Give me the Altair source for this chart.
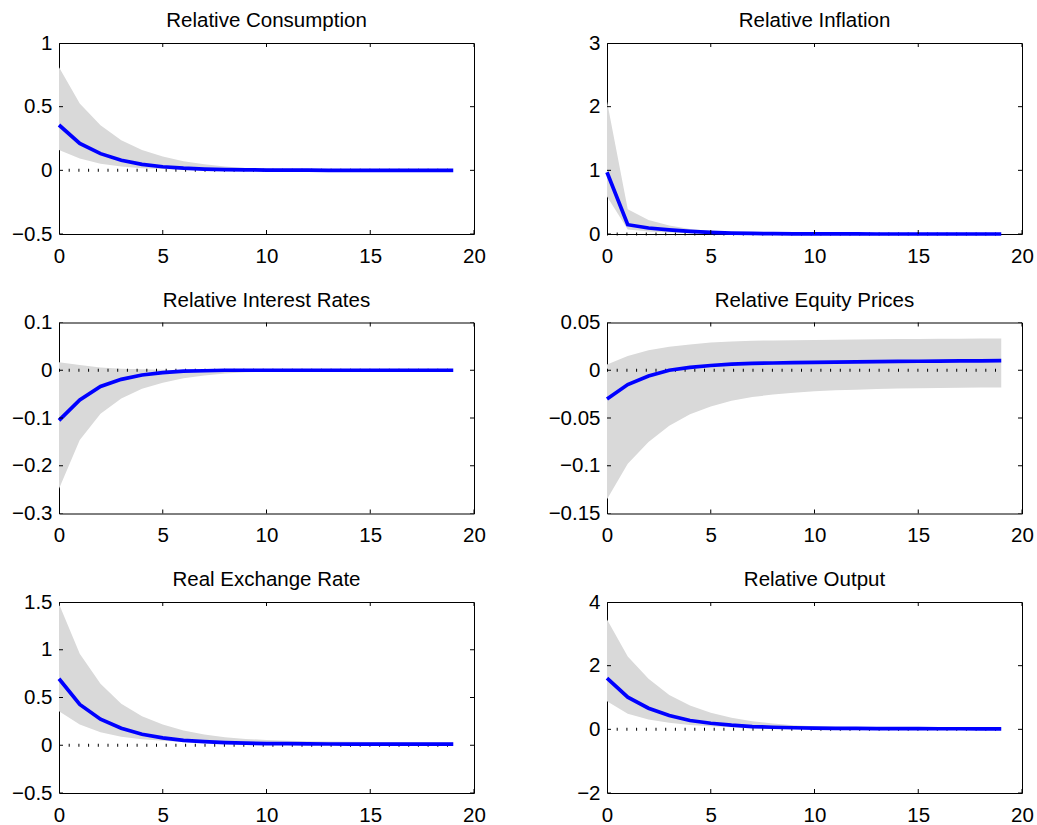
import altair as alt
import pandas as pd

horizon = list(range(20))
x_ticks = [0, 5, 10, 15, 20]

titles = ["Relative Consumption", "Relative Inflation", "Relative Interest Rates",
          "Relative Equity Prices", "Real Exchange Rate", "Relative Output"]

cons_mean = [0.356, 0.212, 0.131, 0.079, 0.047, 0.028, 0.017, 0.010, 0.006, 0.004,
             0.002, 0.001, 0.001, 0.0, 0.0, 0.0, 0.0, 0.0, 0.0, 0.0]
cons_hi = [0.81, 0.524, 0.354, 0.236, 0.160, 0.108, 0.072, 0.047, 0.030, 0.019,
           0.012, 0.008, 0.005, 0.003, 0.002, 0.001, 0.001, 0.001, 0.0, 0.0]
cons_lo = [0.16, 0.092, 0.052, 0.030, 0.017, 0.010, 0.005, 0.002, 0.001, 0.0,
           0.0, 0.0, 0.0, 0.0, 0.0, 0.0, 0.0, 0.0, 0.0, 0.0]

infl_mean = [0.97, 0.146, 0.094, 0.065, 0.042, 0.026, 0.015, 0.009, 0.005, 0.003,
             0.002, 0.001, 0.001, 0.0, 0.0, 0.0, 0.0, 0.0, 0.0, 0.0]
infl_hi = [2.08, 0.39, 0.22, 0.135, 0.078, 0.047, 0.028, 0.017, 0.010, 0.006,
           0.004, 0.002, 0.001, 0.001, 0.0, 0.0, 0.0, 0.0, 0.0, 0.0]
infl_lo = [0.59, 0.07, 0.04, 0.025, 0.013, 0.007, 0.004, 0.002, 0.001, 0.0,
           0.0, 0.0, 0.0, 0.0, 0.0, 0.0, 0.0, 0.0, 0.0, 0.0]

rate_mean = [-0.105, -0.062, -0.034, -0.019, -0.010, -0.005, -0.002, -0.001, 0.0, 0.0,
             0.0, 0.0, 0.0, 0.0, 0.0, 0.0, 0.0, 0.0, 0.0, 0.0]
rate_hi = [0.017, 0.011, 0.006, 0.003, 0.002, 0.001, 0.0, 0.0, 0.0, 0.0,
           0.0, 0.0, 0.0, 0.0, 0.0, 0.0, 0.0, 0.0, 0.0, 0.0]
rate_lo = [-0.248, -0.146, -0.091, -0.059, -0.039, -0.026, -0.017, -0.011, -0.007, -0.004,
           -0.003, -0.002, -0.001, -0.001, 0.0, 0.0, 0.0, 0.0, 0.0, 0.0]

eq_mean = [-0.030, -0.015, -0.006, 0.000, 0.003, 0.005, 0.0065, 0.0072, 0.0076, 0.0080,
           0.0083, 0.0086, 0.0088, 0.0090, 0.0092, 0.0094, 0.0096, 0.0098, 0.0099, 0.0100]
eq_hi = [0.006, 0.015, 0.021, 0.0246, 0.027, 0.029, 0.030, 0.031, 0.0312, 0.0315,
         0.0318, 0.032, 0.0322, 0.0324, 0.0326, 0.0328, 0.033, 0.033, 0.0332, 0.0333]
eq_lo = [-0.135, -0.098, -0.075, -0.058, -0.046, -0.038, -0.032, -0.028, -0.0255, -0.0235,
         -0.022, -0.021, -0.0203, -0.0197, -0.0192, -0.0188, -0.0185, -0.0183, -0.0181, -0.018]

rer_mean = [0.696, 0.427, 0.273, 0.178, 0.115, 0.077, 0.052, 0.038, 0.028, 0.022,
            0.018, 0.016, 0.014, 0.013, 0.012, 0.012, 0.011, 0.011, 0.011, 0.011]
rer_hi = [1.48, 0.958, 0.643, 0.434, 0.304, 0.217, 0.154, 0.112, 0.084, 0.066,
          0.055, 0.048, 0.043, 0.039, 0.036, 0.034, 0.033, 0.032, 0.031, 0.031]
rer_lo = [0.357, 0.217, 0.136, 0.090, 0.063, 0.046, 0.034, 0.026, 0.020, 0.015,
          0.012, 0.009, 0.007, 0.005, 0.004, 0.003, 0.002, 0.002, 0.001, 0.001]

out_mean = [1.61, 1.01, 0.664, 0.433, 0.276, 0.19, 0.13, 0.087, 0.066, 0.05,
            0.04, 0.033, 0.028, 0.025, 0.022, 0.02, 0.019, 0.018, 0.017, 0.016]
out_hi = [3.45, 2.29, 1.59, 1.08, 0.75, 0.52, 0.36, 0.255, 0.18, 0.13,
          0.10, 0.08, 0.065, 0.055, 0.048, 0.043, 0.04, 0.038, 0.036, 0.035]
out_lo = [0.885, 0.486, 0.31, 0.21, 0.14, 0.095, 0.065, 0.045, 0.03, 0.02,
          0.014, 0.01, 0.007, 0.005, 0.004, 0.003, 0.002, 0.002, 0.001, 0.001]

y_domains = [[-0.5, 1], [0, 3], [-0.3, 0.1], [-0.15, 0.05], [-0.5, 1.5], [-2, 4]]
y_ticks = [[-0.5, 0, 0.5, 1], [0, 1, 2, 3], [-0.3, -0.2, -0.1, 0, 0.1],
           [-0.15, -0.1, -0.05, 0, 0.05], [-0.5, 0, 0.5, 1, 1.5], [-2, 0, 2, 4]]

means = [cons_mean, infl_mean, rate_mean, eq_mean, rer_mean, out_mean]
his = [cons_hi, infl_hi, rate_hi, eq_hi, rer_hi, out_hi]
los = [cons_lo, infl_lo, rate_lo, eq_lo, rer_lo, out_lo]

FONT = "Liberation Sans"
FS = 20.5
W, H = 415, 191


def panel(i):
    df = pd.DataFrame({"h": horizon, "mean": means[i], "lo": los[i], "hi": his[i]})
    ydom = y_domains[i]
    xs = alt.Scale(domain=[0, 20], nice=False, zero=False)
    ys = alt.Scale(domain=ydom, nice=False, zero=False)
    xaxis = alt.Axis(values=x_ticks, grid=False, domain=False, ticks=False, tickSize=0,
                     labelPadding=12, title=None, labelExpr="format(datum.value, '~g')",
                     labelFontSize=FS, labelFont=FONT, labelColor="black", labelFlush=False)
    yaxis = alt.Axis(values=y_ticks[i], grid=False, domain=False, ticks=False, tickSize=0,
                     labelPadding=7, title=None, labelExpr="format(datum.value, '~g')",
                     labelFontSize=FS, labelFont=FONT, labelColor="black", labelFlush=False)

    base = alt.Chart(df)
    band = base.mark_area(color="#d9d9d9", opacity=1).encode(
        x=alt.X("h:Q", scale=xs, axis=xaxis),
        y=alt.Y("lo:Q", scale=ys, axis=yaxis),
        y2="hi:Q",
    )
    zero = base.mark_rule(color="black", strokeWidth=3, strokeDash=[1, 8.7]).encode(
        x=alt.X("min(h):Q", scale=xs, axis=xaxis),
        x2="max(h):Q",
        y=alt.YDatum(0, type="quantitative", scale=ys, axis=yaxis),
    )
    line = base.mark_line(color="#0000ff", strokeWidth=3.7).encode(
        x=alt.X("h:Q", scale=xs, axis=xaxis),
        y=alt.Y("mean:Q", scale=ys, axis=yaxis),
    )
    xt = alt.Chart(pd.DataFrame({"v": x_ticks}))
    yt = alt.Chart(pd.DataFrame({"v": y_ticks[i]}))
    tick_style = dict(color="black", thickness=1, size=8, clip=True, opacity=1)
    top_t = xt.mark_tick(orient="vertical", **tick_style).encode(
        x=alt.X("v:Q", scale=xs, axis=xaxis),
        y=alt.YDatum(ydom[1], type="quantitative", scale=ys, axis=yaxis),
    )
    bot_t = xt.mark_tick(orient="vertical", **tick_style).encode(
        x=alt.X("v:Q", scale=xs, axis=xaxis),
        y=alt.YDatum(ydom[0], type="quantitative", scale=ys, axis=yaxis),
    )
    left_t = yt.mark_tick(orient="horizontal", **tick_style).encode(
        y=alt.Y("v:Q", scale=ys, axis=yaxis),
        x=alt.XDatum(0, type="quantitative", scale=xs, axis=xaxis),
    )
    right_t = yt.mark_tick(orient="horizontal", **tick_style).encode(
        y=alt.Y("v:Q", scale=ys, axis=yaxis),
        x=alt.XDatum(20, type="quantitative", scale=xs, axis=xaxis),
    )
    return alt.layer(band, zero, line, top_t, bot_t, left_t, right_t).properties(
        width=W, height=H,
        title=alt.TitleParams(titles[i], fontSize=FS, font=FONT, fontWeight="normal",
                              color="black", anchor="middle", frame="group",
                              baseline="alphabetic", offset=-14.5),
    )


chart = alt.concat(*[panel(i) for i in range(6)], columns=2,
                   spacing={"row": 88.5, "column": 133}, bounds="flush").properties(
    padding={"left": 11, "top": 10, "right": 2, "bottom": 2},
    background="white",
).configure(font=FONT, view=alt.ViewConfig(stroke="black", strokeWidth=1))

chart.save("out.html", embed_options={"renderer": "svg", "actions": False})
